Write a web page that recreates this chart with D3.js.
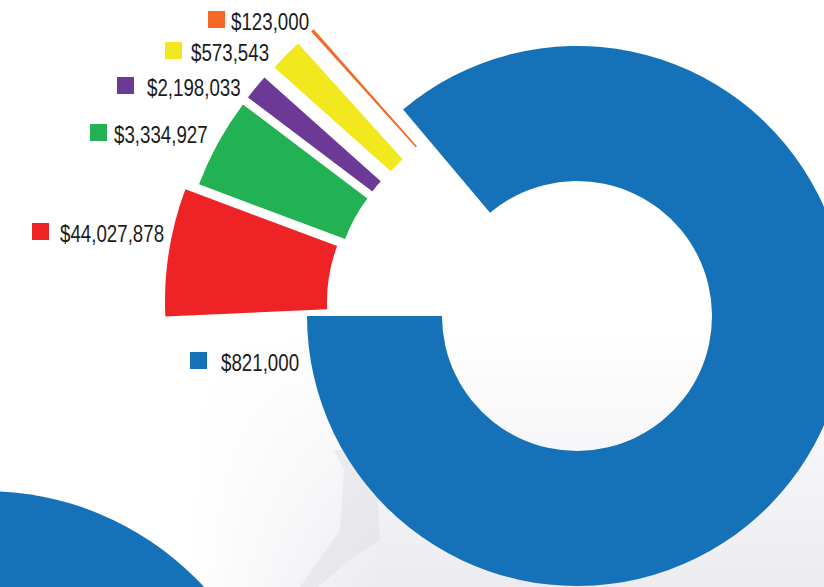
<!DOCTYPE html>
<html>
<head>
<meta charset="utf-8">
<script src="https://cdn.jsdelivr.net/npm/d3@7"></script>
<style>
  html, body { margin: 0; padding: 0; background: #fff; overflow: hidden; }
  svg { display: block; }
  .amount {
    font-family: "Liberation Sans", Arial, sans-serif;
    font-size: 24px;
    fill: #1b1b1b;
  }
</style>
</head>
<body>
<svg class="chart"></svg>
<script>
(function () {
  "use strict";

  // values printed next to each slice (red, green, purple, yellow, orange, blue)
  const amounts = [44027878, 3334927, 2198033, 573543, 123000, 821000];
  // angular share of each slice in degrees
  const sweepDeg = [23.1, 16.6, 4.7, 6.1, 0.6, 310.1];
  const colors = ["#ee2326", "#22b254", "#6c3a96", "#f2e81e", "#f26a23", "#1572b8"];

  const width = 824;
  const height = 587;
  const center = [577, 316];
  const ringStart = 267.4;   // first pulled-out slice starts just below 9 o'clock
  const mainStart = 319.9;   // big slice starts here and runs round to 9 o'clock
  // hand-placed pull-out of the small slices, as in the original layout
  const explode = [[-90, -14], [-82, -21], [-77, -28], [-67, -38], [-54, -50]];
  const ringOuter = [322, 316, 316, 316, 316];
  // legend swatch x, swatch y, text x
  const labelAt = [[32, 223, 60], [90, 124, 114], [117, 77, 147], [165, 42, 191], [208, 11, 231], [190, 352, 221]];
  const squeeze = 0.78;      // condensed look of the original typeface

  const formatMoney = d3.format("$,");
  const angle = d3.scaleLinear().domain([0, 360]).range([0, 2 * Math.PI]);

  const data = amounts.map((v, i) => ({ amount: v, sweep: sweepDeg[i], color: colors[i], i }));
  const ring = data.slice(0, 5);
  const main = data.slice(5);

  const svg = d3.select(".chart").attr("width", width).attr("height", height);
  const defs = svg.append("defs");

  const shade = defs.append("linearGradient")
    .attr("id", "shade")
    .attr("x1", 0).attr("y1", 0).attr("x2", 0).attr("y2", 1);
  shade.append("stop").attr("offset", "0%").attr("stop-color", "#ffffff");
  shade.append("stop").attr("offset", "100%").attr("stop-color", "#ecebf0");

  const fade = defs.append("linearGradient")
    .attr("id", "fade")
    .attr("x1", 0).attr("y1", 0).attr("x2", 1).attr("y2", 0);
  fade.append("stop").attr("offset", "0%").attr("stop-color", "#000");
  fade.append("stop").attr("offset", "30%").attr("stop-color", "#fff");
  fade.append("stop").attr("offset", "100%").attr("stop-color", "#fff");
  defs.append("mask").attr("id", "fade-mask")
    .append("rect")
    .attr("x", 190).attr("y", 330)
    .attr("width", width - 190).attr("height", height - 330)
    .attr("fill", "url(#fade)");

  svg.append("rect").attr("width", width).attr("height", height).attr("fill", "#fff");
  svg.append("rect")
    .attr("x", 190).attr("y", 330)
    .attr("width", width - 190).attr("height", height - 330)
    .attr("fill", "url(#shade)")
    .attr("mask", "url(#fade-mask)");

  // faint backdrop object behind the ring
  svg.append("path")
    .attr("d", "M334,450 L352,450 L352,462 L376,470 L380,540 L350,560 L318,587 L300,587 L340,530 L344,470 Z")
    .attr("fill", "#dcdde0")
    .attr("opacity", 0.45);

  // part of the next chart peeking in at lower left
  svg.append("circle")
    .attr("cx", -15).attr("cy", 789).attr("r", 298)
    .attr("fill", colors[5]);

  const mainPie = d3.pie().sort(null).value(d => d.sweep)
    .startAngle(angle(mainStart))
    .endAngle(angle(mainStart + d3.sum(main, d => d.sweep)));
  const ringPie = d3.pie().sort(null).value(d => d.sweep)
    .startAngle(angle(ringStart))
    .endAngle(angle(ringStart + d3.sum(ring, d => d.sweep)));

  const mainArc = d3.arc().innerRadius(135).outerRadius(270);
  const ringArc = d3.arc().innerRadius(160).outerRadius((d, i) => ringOuter[i]);

  const g = svg.append("g").attr("transform", `translate(${center[0]},${center[1]})`);

  g.selectAll(".main-slice")
    .data(mainPie(main))
    .join("path")
    .attr("class", "main-slice")
    .attr("d", mainArc)
    .attr("fill", d => d.data.color);

  g.selectAll(".ring-slice")
    .data(ringPie(ring))
    .join("path")
    .attr("class", "ring-slice")
    .attr("transform", (d, i) => `translate(${explode[i][0]},${explode[i][1]})`)
    .attr("d", ringArc)
    .attr("fill", d => d.data.color);

  const legend = svg.selectAll(".legend")
    .data(data)
    .join("g")
    .attr("class", "legend");

  legend.append("rect")
    .attr("x", d => labelAt[d.i][0])
    .attr("y", d => labelAt[d.i][1])
    .attr("width", 17)
    .attr("height", 17)
    .attr("fill", d => d.color);

  legend.append("text")
    .attr("class", "amount")
    .attr("transform", d => `translate(${labelAt[d.i][2]},${labelAt[d.i][1] + 19}) scale(${squeeze},1)`)
    .text(d => formatMoney(d.amount));
})();
</script>
</body>
</html>
